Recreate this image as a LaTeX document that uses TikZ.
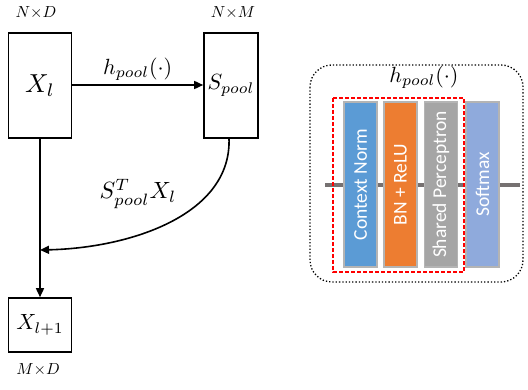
\documentclass[tikz,border=0pt]{standalone}
\usepackage{fontspec}
\usepackage{graphicx}
\newfontfamily\barfont{Carlito}
\usetikzlibrary{arrows.meta}
\definecolor{cblue}{HTML}{5B9BD5}
\definecolor{corange}{HTML}{ED7D31}
\definecolor{cgray}{HTML}{A5A5A5}
\definecolor{clblue}{HTML}{8FAADC}
\definecolor{cline}{HTML}{767171}
\definecolor{cborder}{HTML}{B4B4B4}
\newcommand{\mysc}[2]{\scalebox{#1}{$#2$}}
\begin{document}
\begin{tikzpicture}[x=1pt,y=-1pt,
  box/.style={draw=black,line width=1.6pt,inner sep=0pt},
  conn/.style={line width=1.6pt,-{Triangle[length=9pt,width=8pt]}},
  barbox/.style={draw=cborder,line width=1.5pt,inner sep=0pt,minimum width=33pt,minimum height=165pt,
     text=white,font=\barfont\fontsize{19.5}{22}\selectfont}]
\useasboundingbox (0,0) rectangle (528,390);
% left diagram
\node[box,minimum width=63pt,minimum height=105pt] (xl) at (40,85.5) {\mysc{2.6}{X_l}};
\node[box,minimum width=54pt,minimum height=105pt] (sp) at (231,85.5) {\mysc{2.2}{S_{pool}}};
\node[box,minimum width=63pt,minimum height=54pt] (xl1) at (40,325) {\mysc{2.2}{X_{l+1}}};
\node (d1) at (36,13) {\mysc{1.6}{N{\times}D}};
\node (d2) at (233,13) {\mysc{1.6}{N{\times}M}};
\node (d3) at (38,370) {\mysc{1.6}{M{\times}D}};
\draw[conn] (xl.east |- 0,85) -- node[above=0pt]{\mysc{2.2}{h_{pool}(\cdot)}} (sp.west |- 0,85);
\draw[conn] (xl.south) -- (xl1.north);
\coordinate (mid) at (40,250);
\coordinate (spb) at (229,138);
\draw[conn] (spb) .. controls (232,215) and (130,248) .. (mid);
\node (lab) at (138,194) {\mysc{2.35}{S_{pool}^{T}X_l}};
% right diagram
\draw[dotted,line width=1.3pt,rounded corners=22pt] (310,65) rectangle (523,282);
\node (hp) at (424,77) {\mysc{2.2}{h_{pool}(\cdot)}};
\draw[cline,line width=4.5pt] (325,185) -- (520,185);
\node[barbox,fill=cblue] (b1) at (360.5,184.5) {\rotatebox{90}{Context Norm}};
\node[barbox,fill=corange] (b2) at (400.5,184.5) {\rotatebox{90}{BN + ReLU}};
\node[barbox,fill=cgray] (b3) at (441,184.5) {\rotatebox{90}{Shared Perceptron}};
\node[barbox,fill=clblue] (b4) at (482.5,184.5) {\rotatebox{90}{Softmax}};
\draw[red,dashed,line width=1.3pt,dash pattern=on 4pt off 2pt] (333,98) rectangle (464,272);
\end{tikzpicture}
\end{document}
